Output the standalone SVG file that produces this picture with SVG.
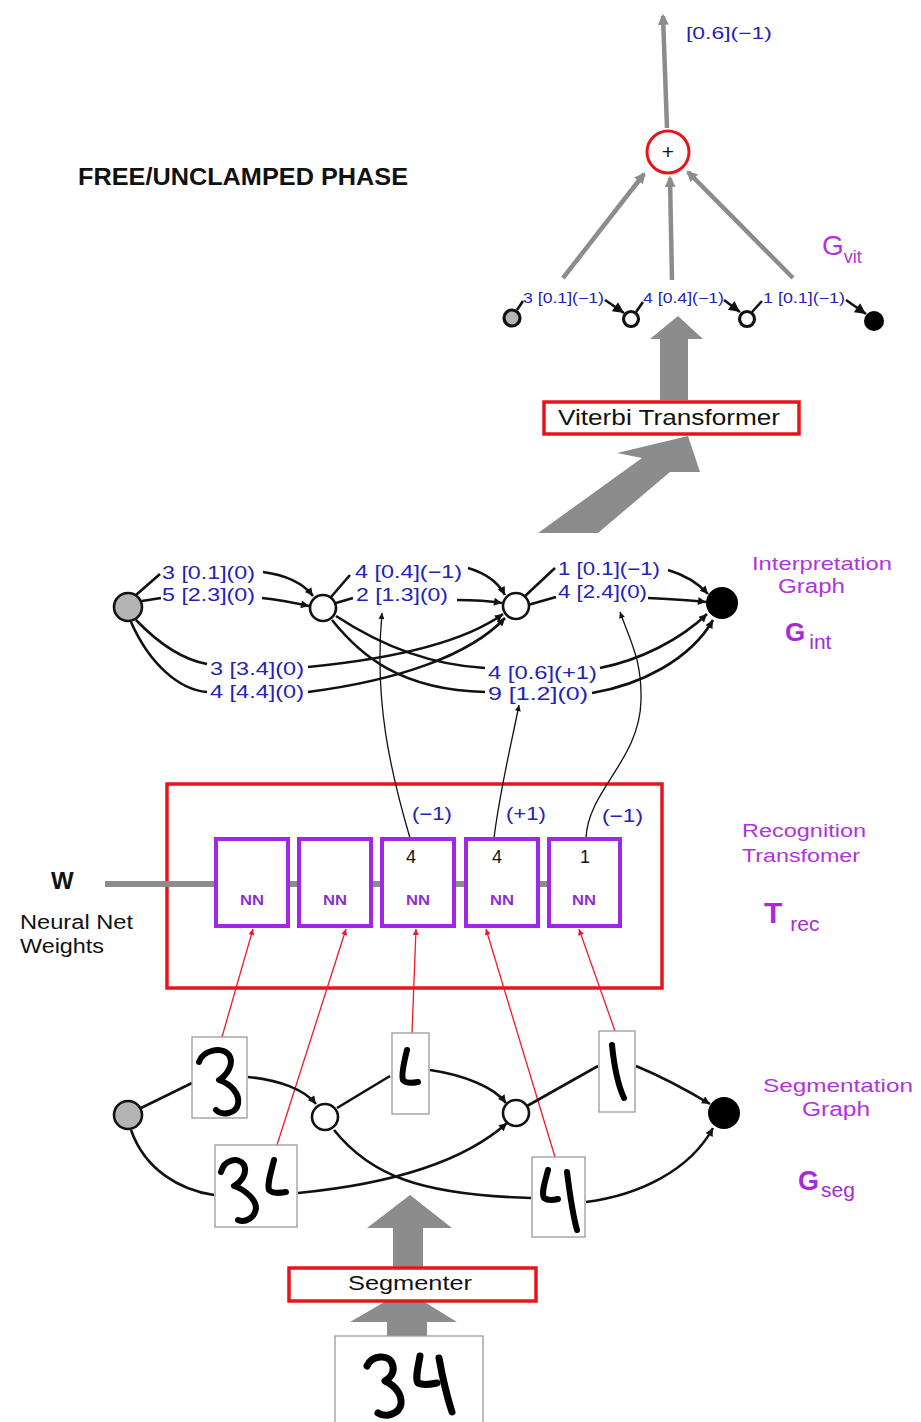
<svg xmlns="http://www.w3.org/2000/svg" width="921" height="1422" viewBox="0 0 921 1422">
<defs>
<style>
.lbl{font-family:"Liberation Sans",Arial,sans-serif;fill:#2323b8;font-size:18px}
.vl{font-family:"Liberation Sans",Arial,sans-serif;fill:#2323b8}
.mag{font-family:"Liberation Sans",Arial,sans-serif;fill:#b034dc}
.magb{font-family:"Liberation Sans",Arial,sans-serif;fill:#a52bd8;font-weight:bold}
.blk{font-family:"Liberation Sans",Arial,sans-serif;fill:#111}
.edge{fill:none;stroke:#111;stroke-width:2.6}
.thin{fill:none;stroke:#111;stroke-width:1.3}
.red{fill:none;stroke:#f01a2a;stroke-width:1.3}
.garr{fill:none;stroke:#8c8c8c;stroke-width:4.5}
.gblock{fill:#8c8c8c}
.redbox{stroke:#e8141c;stroke-width:3.5}
.nn{fill:#fff;stroke:#a226e6;stroke-width:4}
.nnt{font-family:"Liberation Sans",Arial,sans-serif;fill:#8d2fcf;font-weight:bold;font-size:14px}
.imgbox{fill:#fff;stroke:#9a9a9a;stroke-width:1.3}
.ink{fill:none;stroke:#000;stroke-width:6;stroke-linecap:round;stroke-linejoin:round}
.ng{fill:#b4b4b4;stroke:#111;stroke-width:2.6}
.no{fill:#fff;stroke:#111;stroke-width:2.6}
.nb{fill:#000;stroke:#000;stroke-width:2}
.vn{stroke-width:3.2}
</style>
<marker id="ab" viewBox="0 0 10 10" refX="10" refY="5" markerWidth="11" markerHeight="8" markerUnits="userSpaceOnUse" orient="auto"><path d="M0,0 L10,5 L0,10 z" fill="#111"/></marker>
<marker id="abig" viewBox="0 0 10 10" refX="10" refY="5" markerWidth="12" markerHeight="11" markerUnits="userSpaceOnUse" orient="auto"><path d="M0,0 L10,5 L0,10 z" fill="#111"/></marker>
<marker id="at" viewBox="0 0 10 10" refX="10" refY="5" markerWidth="9" markerHeight="6" markerUnits="userSpaceOnUse" orient="auto"><path d="M0,0 L10,5 L0,10 z" fill="#111"/></marker>
<marker id="ar" viewBox="0 0 10 10" refX="10" refY="5" markerWidth="9" markerHeight="6" markerUnits="userSpaceOnUse" orient="auto"><path d="M0,0 L10,5 L0,10 z" fill="#f01a2a"/></marker>
<marker id="ag" viewBox="0 0 10 10" refX="8" refY="5" markerWidth="14" markerHeight="11" markerUnits="userSpaceOnUse" orient="auto"><path d="M0,0 L10,5 L0,10 z" fill="#8c8c8c"/></marker>
</defs>
<rect width="921" height="1422" fill="#fff"/>

<text id="title" class="blk" x="78" y="185" font-size="23" font-weight="bold" textLength="330" lengthAdjust="spacingAndGlyphs">FREE/UNCLAMPED PHASE</text>

<!-- Recognition transformer frame (behind connectors) -->
<rect id="trec-frame" class="redbox" x="167" y="784" width="495" height="204" style="fill:#fff"/>

<!-- connectors -->
<g id="connectors">
  <!-- Gvit -->
  <line class="garr" x1="667" y1="128" x2="663" y2="16" marker-end="url(#ag)"/>
  <line class="garr" x1="563" y1="278" x2="644" y2="174" marker-end="url(#ag)"/>
  <line class="garr" x1="672" y1="280" x2="670" y2="178" marker-end="url(#ag)"/>
  <line class="garr" x1="793" y1="278" x2="688" y2="172" marker-end="url(#ag)"/>
  <line class="edge" x1="517" y1="310" x2="523" y2="301"/>
  <line class="edge" x1="605" y1="300" x2="624" y2="313" marker-end="url(#abig)"/>
  <line class="edge" x1="636" y1="312" x2="643" y2="302"/>
  <line class="edge" x1="724" y1="300" x2="740" y2="312" marker-end="url(#abig)"/>
  <line class="edge" x1="752" y1="312" x2="762" y2="301"/>
  <line class="edge" x1="846" y1="300" x2="866" y2="314" marker-end="url(#abig)"/>

  <!-- block arrows -->
  <polygon class="gblock" points="538,533 598,533 670,472 700,472 688,436 617,453 642,458"/>
  <polygon class="gblock" points="660,400 688,400 688,339 703,339 678,316 650,339 660,339"/>
  <polygon class="gblock" points="393,1268 423,1268 423,1228 452,1228 410,1195 367,1228 393,1228"/>
  <polygon class="gblock" points="387,1336 427,1336 427,1322 457,1322 405,1290 350,1322 387,1322"/>

  <!-- Interpretation graph -->
  <line class="edge" x1="136" y1="595" x2="160" y2="574"/>
  <path class="edge" d="M263,572 C285,575 303,583 313,596" marker-end="url(#ab)"/>
  <line class="edge" x1="142" y1="601" x2="161" y2="598"/>
  <path class="edge" d="M262,598 C280,600 295,603 309,606" marker-end="url(#ab)"/>
  <path class="edge" d="M136,620 C160,645 185,660 207,664"/>
  <path class="edge" d="M131,622 C150,665 180,690 207,692"/>
  <path class="edge" d="M308,667 C380,660 460,645 503,614" marker-end="url(#ab)"/>
  <path class="edge" d="M308,692 C400,680 470,655 505,618" marker-end="url(#ab)"/>
  <line class="edge" x1="331" y1="597" x2="350" y2="575"/>
  <path class="edge" d="M468,568 C485,573 498,582 505,595" marker-end="url(#ab)"/>
  <line class="edge" x1="336" y1="603" x2="353" y2="598"/>
  <path class="edge" d="M457,600 C475,600 490,601 502,603" marker-end="url(#ab)"/>
  <path class="edge" d="M336,616 C380,645 430,665 485,668"/>
  <path class="edge" d="M332,620 C360,655 400,690 485,692"/>
  <line class="edge" x1="524" y1="597" x2="555" y2="568"/>
  <path class="edge" d="M668,570 C685,575 698,583 708,594" marker-end="url(#ab)"/>
  <line class="edge" x1="528" y1="605" x2="556" y2="597"/>
  <path class="edge" d="M648,598 C670,599 690,600 706,602" marker-end="url(#ab)"/>
  <path class="edge" d="M600,668 C640,660 680,640 707,614" marker-end="url(#ab)"/>
  <path class="edge" d="M592,693 C640,685 690,660 713,620" marker-end="url(#ab)"/>

  <!-- NN to interpretation -->
  <path class="thin" d="M410,838 C390,770 374,700 382,613" marker-end="url(#at)"/>
  <path class="thin" d="M494,838 C500,790 510,750 519,705" marker-end="url(#at)"/>
  <path class="thin" d="M586,838 C588,790 640,760 641,700 C642,660 630,640 620,612" marker-end="url(#at)"/>

  <!-- weights line -->
  <line x1="105" y1="884" x2="550" y2="884" stroke="#8c8c8c" stroke-width="6"/>

  <!-- segments to NN -->
  <line class="red" x1="222" y1="1037" x2="253" y2="929" marker-end="url(#ar)"/>
  <line class="red" x1="277" y1="1145" x2="346" y2="929" marker-end="url(#ar)"/>
  <line class="red" x1="412" y1="1033" x2="416" y2="929" marker-end="url(#ar)"/>
  <line class="red" x1="555" y1="1157" x2="486" y2="929" marker-end="url(#ar)"/>
  <line class="red" x1="615" y1="1031" x2="579" y2="929" marker-end="url(#ar)"/>

  <!-- Segmentation graph -->
  <line class="edge" x1="141" y1="1108" x2="192" y2="1083"/>
  <path class="edge" d="M248,1077 C280,1080 305,1090 316,1104" marker-end="url(#ab)"/>
  <line class="edge" x1="337" y1="1108" x2="390" y2="1076"/>
  <path class="edge" d="M430,1070 C465,1075 495,1088 506,1103" marker-end="url(#ab)"/>
  <line class="edge" x1="527" y1="1106" x2="598" y2="1066"/>
  <path class="edge" d="M636,1066 C665,1078 690,1092 710,1104" marker-end="url(#ab)"/>
  <path class="edge" d="M131,1130 C145,1170 180,1190 214,1195"/>
  <path class="edge" d="M298,1193 C380,1185 460,1165 507,1123" marker-end="url(#ab)"/>
  <path class="edge" d="M334,1130 C370,1175 420,1195 531,1198"/>
  <path class="edge" d="M586,1202 C640,1195 690,1170 713,1128" marker-end="url(#ab)"/>
</g>

<!-- Gvit -->
<g id="out-label"><text class="vl" x="686" y="39" style="font-size:17px" textLength="86" lengthAdjust="spacingAndGlyphs">[0.6](−1)</text></g>
<g id="plus-node">
  <circle cx="668" cy="152" r="21" fill="#fff" stroke="#e8141c" stroke-width="3"/>
  <text class="blk" x="668" y="159" font-size="21" text-anchor="middle">+</text>
</g>
<g id="gvit-label"><text class="mag" x="822" y="255" style="font-size:28px">G<tspan style="font-size:18px" dy="8">vit</tspan></text></g>
<g id="gvit-n0"><circle class="ng vn" cx="512" cy="318" r="8"/></g>
<g id="gvit-n1"><circle class="no vn" cx="631" cy="319" r="7.5"/></g>
<g id="gvit-n2"><circle class="no vn" cx="747" cy="319" r="7.5"/></g>
<g id="gvit-n3"><circle class="nb" cx="874" cy="321" r="9"/></g>
<g id="gvit-labels">
  <text class="vl" x="523" y="303" style="font-size:14px" textLength="81" lengthAdjust="spacingAndGlyphs">3 [0.1](−1)</text>
  <text class="vl" x="643" y="303" style="font-size:14px" textLength="81" lengthAdjust="spacingAndGlyphs">4 [0.4](−1)</text>
  <text class="vl" x="763" y="303" style="font-size:14px" textLength="82" lengthAdjust="spacingAndGlyphs">1 [0.1](−1)</text>
</g>

<g id="viterbi">
  <rect class="redbox" x="544" y="402" width="255" height="32" style="fill:#fff"/>
  <text class="blk" x="558" y="425" font-size="22" textLength="222" lengthAdjust="spacingAndGlyphs">Viterbi Transformer</text>
</g>

<!-- Interpretation graph -->
<g id="gint-n0"><circle class="ng" cx="128" cy="607" r="14"/></g>
<g id="gint-n1"><circle class="no" cx="323" cy="608" r="13"/></g>
<g id="gint-n2"><circle class="no" cx="516" cy="606" r="13"/></g>
<g id="gint-n3"><circle class="nb" cx="722" cy="603" r="15"/></g>
<g id="gint-labels">
  <text class="lbl" x="162" y="579" textLength="93" lengthAdjust="spacingAndGlyphs">3 [0.1](0)</text>
  <text class="lbl" x="162" y="601" textLength="93" lengthAdjust="spacingAndGlyphs">5 [2.3](0)</text>
  <text class="lbl" x="355" y="578" textLength="107" lengthAdjust="spacingAndGlyphs">4 [0.4](−1)</text>
  <text class="lbl" x="356" y="601" textLength="92" lengthAdjust="spacingAndGlyphs">2 [1.3](0)</text>
  <text class="lbl" x="558" y="575" textLength="102" lengthAdjust="spacingAndGlyphs">1 [0.1](−1)</text>
  <text class="lbl" x="558" y="598" textLength="89" lengthAdjust="spacingAndGlyphs">4 [2.4](0)</text>
  <text class="lbl" x="210" y="675" textLength="94" lengthAdjust="spacingAndGlyphs">3 [3.4](0)</text>
  <text class="lbl" x="210" y="698" textLength="94" lengthAdjust="spacingAndGlyphs">4 [4.4](0)</text>
  <text class="lbl" x="488" y="679" textLength="109" lengthAdjust="spacingAndGlyphs">4 [0.6](+1)</text>
  <text class="lbl" x="488" y="700" textLength="100" lengthAdjust="spacingAndGlyphs">9 [1.2](0)</text>
</g>
<g id="gint-label">
  <text class="mag" x="822" y="570" style="font-size:19px" text-anchor="middle" textLength="140" lengthAdjust="spacingAndGlyphs">Interpretation</text>
  <text class="mag" x="778" y="593" style="font-size:20px" textLength="67" lengthAdjust="spacingAndGlyphs">Graph</text>
  <text class="magb" x="785" y="641" font-size="26">G<tspan font-weight="normal" font-size="21" dx="4" dy="8">int</tspan></text>
</g>

<!-- Recognition transformer -->
<g id="trec">
  <g id="nn1"><rect class="nn" x="216" y="839" width="72" height="87"/><text class="nnt" x="252" y="905" text-anchor="middle" textLength="24" lengthAdjust="spacingAndGlyphs">NN</text></g>
  <g id="nn2"><rect class="nn" x="299" y="839" width="72" height="87"/><text class="nnt" x="335" y="905" text-anchor="middle" textLength="24" lengthAdjust="spacingAndGlyphs">NN</text></g>
  <g id="nn3"><rect class="nn" x="382" y="839" width="72" height="87"/><text class="nnt" x="418" y="905" text-anchor="middle" textLength="24" lengthAdjust="spacingAndGlyphs">NN</text><text class="blk" x="411" y="863" font-size="18" text-anchor="middle">4</text></g>
  <g id="nn4"><rect class="nn" x="466" y="839" width="72" height="87"/><text class="nnt" x="502" y="905" text-anchor="middle" textLength="24" lengthAdjust="spacingAndGlyphs">NN</text><text class="blk" x="497" y="863" font-size="18" text-anchor="middle">4</text></g>
  <g id="nn5"><rect class="nn" x="549" y="839" width="71" height="87"/><text class="nnt" x="584" y="905" text-anchor="middle" textLength="24" lengthAdjust="spacingAndGlyphs">NN</text><text class="blk" x="585" y="863" font-size="18" text-anchor="middle">1</text></g>
  <text class="lbl" x="412" y="820" textLength="40" lengthAdjust="spacingAndGlyphs">(−1)</text>
  <text class="lbl" x="506" y="820" textLength="40" lengthAdjust="spacingAndGlyphs">(+1)</text>
  <text class="lbl" x="602" y="822" textLength="41" lengthAdjust="spacingAndGlyphs">(−1)</text>
</g>
<g id="weights">
  <text class="blk" x="51" y="889" font-size="24" font-weight="bold">W</text>
  <text class="blk" x="20" y="929" font-size="20" textLength="113" lengthAdjust="spacingAndGlyphs">Neural Net</text>
  <text class="blk" x="20" y="953" font-size="20" textLength="84" lengthAdjust="spacingAndGlyphs">Weights</text>
</g>
<g id="trec-label">
  <text class="mag" x="742" y="837" style="font-size:18px" textLength="124" lengthAdjust="spacingAndGlyphs">Recognition</text>
  <text class="mag" x="742" y="862" style="font-size:18px" textLength="118" lengthAdjust="spacingAndGlyphs">Transfomer</text>
  <text class="magb" x="764" y="923" font-size="30">T<tspan font-weight="normal" font-size="21" dx="8" dy="8">rec</tspan></text>
</g>

<!-- Segmentation graph -->
<g id="gseg-n0"><circle class="ng" cx="128" cy="1115" r="14"/></g>
<g id="gseg-n1"><circle class="no" cx="325" cy="1117" r="13"/></g>
<g id="gseg-n2"><circle class="no" cx="516" cy="1113" r="13"/></g>
<g id="gseg-n3"><circle class="nb" cx="724" cy="1113" r="15"/></g>
<g id="seg-3"><rect class="imgbox" x="192" y="1037" width="55" height="81"/>
  <path class="ink" d="M199,1062 C203,1050 222,1046 229,1055 C235,1064 226,1076 219,1080 C231,1084 240,1094 238,1104 C236,1114 222,1116 216,1110"/></g>
<g id="seg-4a"><rect class="imgbox" x="392" y="1033" width="37" height="81"/>
  <path class="ink" d="M407,1050 C404,1062 401,1075 403,1080 C406,1084 413,1083 418,1082"/></g>
<g id="seg-1"><rect class="imgbox" x="599" y="1031" width="36" height="81"/>
  <path class="ink" d="M612,1045 C614,1065 617,1083 624,1098"/></g>
<g id="seg-34"><rect class="imgbox" x="215" y="1145" width="82" height="82"/>
  <path class="ink" d="M221,1172 C224,1160 238,1156 244,1165 C248,1174 240,1183 234,1186 C246,1190 256,1200 256,1208 C255,1218 245,1223 238,1220"/>
  <path class="ink" d="M274,1160 C271,1172 267,1184 269,1190 C273,1194 280,1193 286,1192"/></g>
<g id="seg-4"><rect class="imgbox" x="532" y="1157" width="53" height="80"/>
  <path class="ink" d="M548,1170 C545,1182 541,1193 544,1198 C548,1201 554,1200 558,1199"/>
  <path class="ink" d="M567,1172 C570,1195 572,1212 577,1230"/></g>
<g id="gseg-label">
  <text class="mag" x="838" y="1092" style="font-size:19px" text-anchor="middle" textLength="150" lengthAdjust="spacingAndGlyphs">Segmentation</text>
  <text class="mag" x="802" y="1116" style="font-size:20px" textLength="68" lengthAdjust="spacingAndGlyphs">Graph</text>
  <text class="magb" x="798" y="1190" font-size="27">G<tspan font-weight="normal" font-size="21" dx="2" dy="7">seg</tspan></text>
</g>

<g id="segmenter">
  <rect class="redbox" x="289" y="1268" width="247" height="33" style="fill:#fff"/>
  <text class="blk" x="348" y="1290" font-size="21" textLength="124" lengthAdjust="spacingAndGlyphs">Segmenter</text>
</g>
<g id="input-34"><rect class="imgbox" x="335" y="1336" width="148" height="90"/>
  <path class="ink" style="stroke-width:7" d="M367,1366 C372,1355 388,1354 392,1363 C396,1372 390,1378 385,1381 C396,1386 402,1395 401,1404 C399,1414 386,1418 378,1413"/>
  <path class="ink" style="stroke-width:7" d="M420,1356 C418,1368 415,1378 418,1383 C424,1386 432,1384 437,1383"/>
  <path class="ink" style="stroke-width:7" d="M439,1358 C443,1380 447,1397 452,1412"/></g>
</svg>
